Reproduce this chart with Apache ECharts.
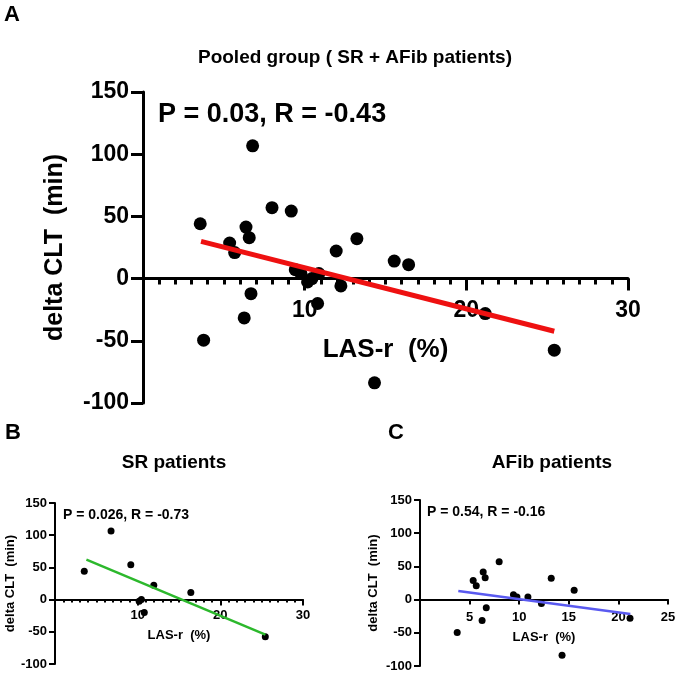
<!DOCTYPE html>
<html>
<head>
    <meta charset="utf-8">
    <title>LAS-r vs delta CLT</title>
    <script src="https://cdn.jsdelivr.net/npm/echarts@6/dist/echarts.min.js"></script>
</head>
<body>
<div id="main"></div>
<style type="text/css">
    html, body {
        margin: 0px;
        padding: 0px;
        background: #fff
    }

    #main {
        width: 677px;
        height: 673px
    }
</style>

<script type="text/javascript">
    // SR patients (LAS-r %, delta CLT min)
    var srX = [3.54, 6.78, 9.17, 10.18, 10.45, 10.8, 11.95, 16.43, 25.44];
    var srY = [44.1, 106.7, 54.3, -2.7, 0, -20, 22.2, 11.2, -57.5];
    // AFib patients
    var afX = [3.75, 5.36, 5.67, 6.37, 6.26, 6.57, 6.68, 7.98, 9.42, 9.77, 10.88, 12.24, 13.23, 14.32, 15.54, 21.17];
    var afY = [-49.5, 28.6, 20.9, 41.4, -31.6, 32.9, -12.1, 57, 7.2, 4, 4, -5.9, 32.1, -83.8, 14.1, -28.1];

    // regression line end points
    var pooledFitX = [3.59, 25.44];
    var pooledFitY = [29.9, -42.3];
    var srFitX = [3.8, 25.45];
    var srFitY = [62, -54.5];
    var afFitX = [3.86, 21.2];
    var afFitY = [13.1, -21.6];

    var yTicks = [-100, -50, 0, 50, 100, 150];
    var statsA = 'P = 0.03, R = -0.43';
    var statsB = 'P = 0.026, R = -0.73';
    var statsC = 'P = 0.54, R = -0.16';

    var FONT = '"Liberation Sans", Arial, sans-serif';

    function pairs(xs, ys) {
        var res = [];
        for (var i = 0; i < xs.length; i++) {
            res.push([xs[i], ys[i]]);
        }
        return res;
    }

    var pooledX = srX.concat(afX);
    var pooledY = srY.concat(afY);

    // grid boxes; the x axis is lifted to y = 0 with a negative offset
    var grids = [
        {left: 143, top: 92, width: 485, height: 311},
        {left: 55, top: 503, width: 248, height: 161},
        {left: 420, top: 500, width: 248, height: 166}
    ];

    function zeroOffset(g) {
        var ymin = yTicks[0], ymax = yTicks[yTicks.length - 1];
        return -g.height * (0 - ymin) / (ymax - ymin);
    }

    function xAxisOf(gi, max, step, minor, fs, nameFs, lw, tickLen, margin, nameGap) {
        return {
            gridIndex: gi, type: 'value', min: 0, max: max, interval: step,
            position: 'bottom', offset: zeroOffset(grids[gi]),
            name: 'LAS-r  (%)', nameLocation: 'middle', nameGap: nameGap,
            nameTextStyle: {color: '#000', fontFamily: FONT, fontWeight: 'bold', fontSize: nameFs},
            axisLine: {onZero: false, lineStyle: {color: '#000', width: lw}},
            axisTick: {show: true, length: tickLen, lineStyle: {color: '#000', width: lw}},
            minorTick: {show: minor, splitNumber: 10, length: tickLen / 2, lineStyle: {color: '#000', width: lw}},
            axisLabel: {
                color: '#000', fontFamily: FONT, fontWeight: 'bold', fontSize: fs, margin: margin,
                formatter: function (v) { return v === 0 ? '' : v; }
            },
            splitLine: {show: false}
        };
    }

    function yAxisOf(gi, fs, nameFs, lw, tickLen, margin, nameGap) {
        return {
            gridIndex: gi, type: 'value', min: yTicks[0], max: yTicks[yTicks.length - 1], interval: 50,
            name: 'delta CLT  (min)', nameLocation: 'middle', nameGap: nameGap,
            nameTextStyle: {color: '#000', fontFamily: FONT, fontWeight: 'bold', fontSize: nameFs},
            axisLine: {show: true, onZero: false, lineStyle: {color: '#000', width: lw}},
            axisTick: {show: true, length: tickLen, lineStyle: {color: '#000', width: lw}},
            axisLabel: {color: '#000', fontFamily: FONT, fontWeight: 'bold', fontSize: fs, margin: margin},
            splitLine: {show: false}
        };
    }

    function text(x, y, str, size, align) {
        return {
            type: 'text', x: x, y: y,
            style: {
                text: str, fill: '#000', font: 'bold ' + size + 'px ' + FONT,
                textAlign: align || 'left', textVerticalAlign: 'middle'
            }
        };
    }

    var myChart = echarts.init(document.getElementById('main'));

    var option = {
        backgroundColor: '#fff',
        animation: false,
        grid: grids.map(function (g) {
            return {left: g.left, top: g.top, width: g.width, height: g.height, outerBoundsMode: 'none'};
        }),
        xAxis: [
            xAxisOf(0, 30, 10, true, 23, 26, 3, 12, 21, 58),
            xAxisOf(1, 30, 10, true, 13, 13, 2, 6, 9, 29),
            xAxisOf(2, 25, 5, false, 13, 13, 2, 5, 11, 31)
        ],
        yAxis: [
            yAxisOf(0, 23, 25, 3, 12, 14, 75),
            yAxisOf(1, 13, 13, 2, 6, 8, 38),
            yAxisOf(2, 13, 13, 2, 6, 8, 40)
        ],
        graphic: [
            text(4, 15, 'A', 22),
            text(355, 58, 'Pooled group ( SR + AFib patients)', 19, 'center'),
            text(158, 115, statsA, 27),
            text(5, 433, 'B', 22),
            text(174, 463, 'SR patients', 19, 'center'),
            text(63, 515, statsB, 14),
            text(388, 433, 'C', 22),
            text(552, 463, 'AFib patients', 19, 'center'),
            text(427, 512, statsC, 14)
        ],
        series: [
            {
                type: 'line', xAxisIndex: 0, yAxisIndex: 0, showSymbol: false, silent: true,
                data: pairs(pooledFitX, pooledFitY),
                lineStyle: {color: '#ee1111', width: 5}
            },
            {
                type: 'scatter', xAxisIndex: 0, yAxisIndex: 0, symbolSize: 13,
                data: pairs(pooledX, pooledY),
                itemStyle: {color: '#000', opacity: 1}
            },
            {
                type: 'line', xAxisIndex: 1, yAxisIndex: 1, showSymbol: false, silent: true,
                data: pairs(srFitX, srFitY),
                lineStyle: {color: '#2cb82c', width: 2.5}
            },
            {
                type: 'scatter', xAxisIndex: 1, yAxisIndex: 1, symbolSize: 7,
                data: pairs(srX, srY),
                itemStyle: {color: '#000', opacity: 1}
            },
            {
                type: 'scatter', xAxisIndex: 2, yAxisIndex: 2, symbolSize: 7,
                data: pairs(afX, afY),
                itemStyle: {color: '#000', opacity: 1}
            },
            {
                type: 'line', xAxisIndex: 2, yAxisIndex: 2, showSymbol: false, silent: true,
                data: pairs(afFitX, afFitY),
                lineStyle: {color: '#5a5af0', width: 2.5}
            }
        ]
    };

    myChart.setOption(option);
</script>
</body>
</html>
